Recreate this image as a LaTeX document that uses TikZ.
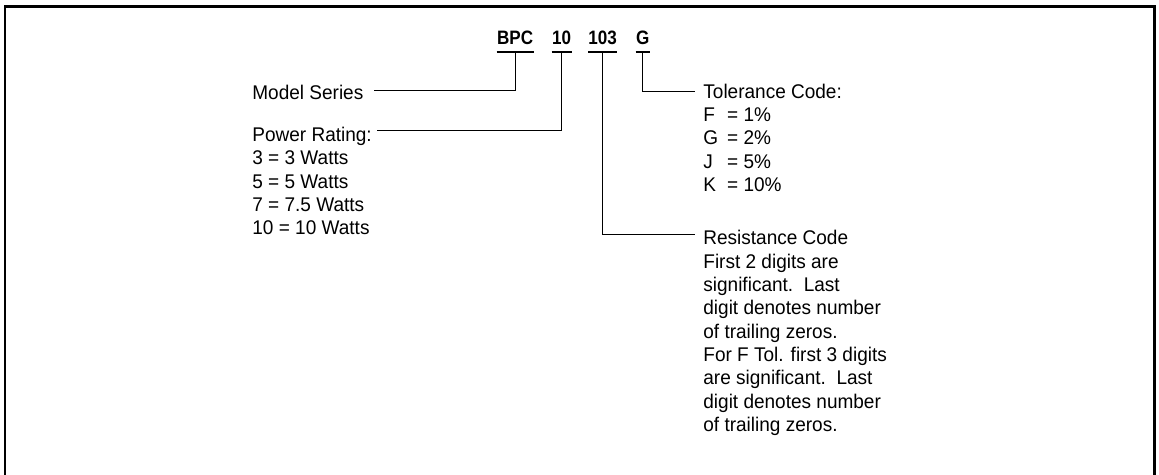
\documentclass[tikz,border=0pt]{standalone}
\usepackage{fontspec}
\setmainfont{Liberation Sans}
\newfontfamily\narrowfont{Liberation Sans}[FakeStretch=0.96]
\newfontfamily\codefont{Liberation Sans}[FakeStretch=0.88]
\usetikzlibrary{positioning}
\newcommand{\tcode}[1]{\makebox[1.2em][l]{#1}}
\tikzset{
  txt/.style={inner sep=0pt, anchor=north west, align=left, font=\narrowfont\fontsize{9.9}{11.67}\selectfont},
  code/.style={inner sep=0pt, anchor=base west, text depth=3.4pt, font=\codefont\fontsize{9.7}{10}\selectfont\bfseries},
  uline/.style={line width=0.7pt, draw=black},
  lead/.style={line width=0.5pt, draw=black},
  frame/.style={line width=1.3pt, draw=black}
}
\begin{document}
\begin{tikzpicture}[x=0.5pt, y=-0.5pt]
  \useasboundingbox (0,0) rectangle (1159,475);
  \draw[frame] (5,475) -- (5,6.5) -- (1154.5,6.5) -- (1154.5,475);

  \node[code] (bpc) at (496.7,45) {BPC};
  \node[code] (ten) at (551.7,45) {10};
  \node[code] (res) at (588,45) {103};
  \node[code] (tol) at (635.7,45) {G};

  \draw[uline] (bpc.south west) -- (bpc.south east);
  \draw[uline] (ten.south west) -- (ten.south east);
  \draw[uline] (res.south west) -- (res.south east);
  \draw[uline] (tol.south west) -- (tol.south east);

  \node[txt] (model) at (252,85) {Model Series};
  \node[txt] (power) at (252,126.7) {Power Rating:\\3 = 3 Watts\\5 = 5 Watts\\7 = 7.5 Watts\\10 = 10 Watts};
  \node[txt] (toler) at (703,83.3) {Tolerance Code:\\\tcode{F}= 1\%\\\tcode{G}= 2\%\\\tcode{J}= 5\%\\\tcode{K}= 10\%};
  \node[txt] (resist) at (703,230) {Resistance Code\\First 2 digits are\\significant.\ \ Last\\digit denotes number\\of trailing zeros.\\For F Tol. first 3 digits\\are significant.\ \ Last\\digit denotes number\\of trailing zeros.};

  \draw[lead] (bpc.south) |- ([xshift=5pt,yshift=-3pt]model.north east);
  \draw[lead] (ten.south) |- ([xshift=2.5pt,yshift=-2pt]power.north east);
  \draw[lead] (res.south) |- ([xshift=-4pt,yshift=-2.5pt]resist.north west);
  \draw[lead] (tol.south) |- ([xshift=-4pt,yshift=-4pt]toler.north west);
\end{tikzpicture}
\end{document}
